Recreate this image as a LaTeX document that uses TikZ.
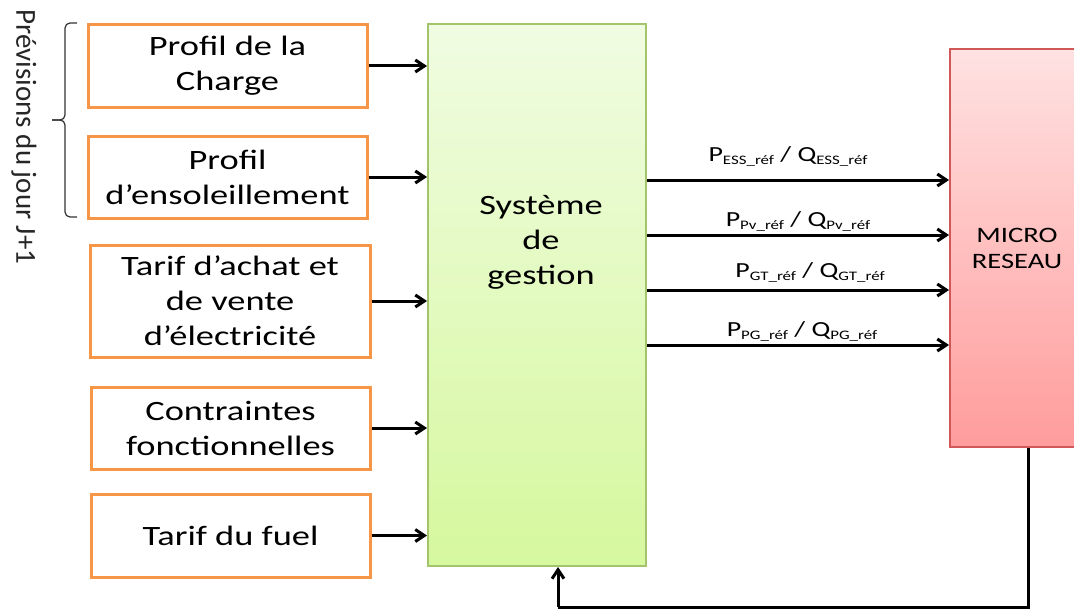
\documentclass[tikz,border=0pt]{standalone}
\usepackage{fontspec}
\setmainfont{Carlito}[FakeStretch=1.3]
\newfontfamily\narrowfont{Carlito}
\usepackage{tikz}
\usetikzlibrary{arrows.meta,positioning}
\definecolor{orgc}{HTML}{F79646}
\definecolor{grntop}{HTML}{F0FCE2}
\definecolor{grnbot}{HTML}{D6F89E}
\definecolor{grnc}{HTML}{A4C46C}
\definecolor{redtop}{HTML}{FFE2E2}
\definecolor{redbot}{HTML}{FF9C9C}
\definecolor{redc}{HTML}{D05858}
\newcommand{\sbs}[1]{\raisebox{-3pt}{\fontsize{13}{13}\selectfont #1}}
\tikzset{
  ar/.style={-{Straight Barb[length=9pt,width=12pt]},line width=3pt,black},
  bx/.style={draw=orgc,line width=3pt,fill=white,minimum width=279pt,minimum height=82pt,align=center,inner sep=0pt,font=\fontsize{28}{35}\selectfont},
  lb/.style={inner sep=0pt,font=\fontsize{21.5}{22}\selectfont}
}
\begin{document}
\begin{tikzpicture}[x=1pt,y=-1pt]
\useasboundingbox (0,0) rectangle (1074,610);
% entrees
\node[bx] (charge) at (227.5,66) {Profil de la\\Charge};
\node[bx] (soleil) at (227.5,177) {Profil\\d’ensoleillement};
\node[bx,minimum width=280pt,minimum height=112pt] (tarif) at (230,301) {Tarif d’achat et\\de vente\\d’électricité};
\node[bx] (contr) at (230.5,428) {Contraintes\\fonctionnelles};
\node[bx,minimum height=83pt] (fuel) at (230.5,535.5) {Tarif du fuel};
% blocs
\node[draw=grnc,line width=2pt,top color=grntop,bottom color=grnbot,minimum width=218pt,minimum height=542pt,inner sep=0pt] (gestion) at (537,295) {};
\node[align=center,inner sep=0pt,font=\fontsize{28}{35}\selectfont] (gtxt) at (541,242) {Système\\de\\gestion};
\node[draw=redc,line width=2pt,top color=redtop,bottom color=redbot,minimum width=134pt,minimum height=398pt,align=center,inner sep=0pt,font=\fontsize{22}{26}\selectfont] (micro) at (1017,248) {MICRO\\RESEAU};
% fleches
\foreach \n in {charge,soleil,tarif,contr,fuel}
  \draw[ar] (\n.east) -- (gestion.west |- \n.east);
\foreach \y in {180,235,290,345}
  \draw[ar] (gestion.east |- 0,\y) -- (micro.west |- 0,\y);
\node[lb] (lbess) at (788,156) {P\sbs{ESS\_réf} / Q\sbs{ESS\_réf}};
\node[lb] (lbpv) at (798,221) {P\sbs{Pv\_réf} / Q\sbs{Pv\_réf}};
\node[lb] (lbgt) at (810,272) {P\sbs{GT\_réf} / Q\sbs{GT\_réf}};
\node[lb] (lbpg) at (802,331) {P\sbs{PG\_réf} / Q\sbs{PG\_réf}};
% retour
\coordinate (fb) at (558,607);
\draw[ar,-] ([xshift=11pt]micro.south) |- (fb);
\draw[ar] (fb) -- (gestion.south -| fb);
% accolade
\coordinate (brtip) at (52,120);
\draw[line width=1.2pt,black!80,rounded corners=5pt] (77,23) -- (65,23) -- (65,120) -- (brtip);
\draw[line width=1.2pt,black!80,rounded corners=5pt] (77,217) -- (65,217) -- (65,120) -- (brtip);
\node[rotate=-90,inner sep=0pt,font=\narrowfont\fontsize{29}{29}\selectfont,text=black!85] (prev) at (24,137) {Prévisions du jour J+1};
\end{tikzpicture}
\end{document}
